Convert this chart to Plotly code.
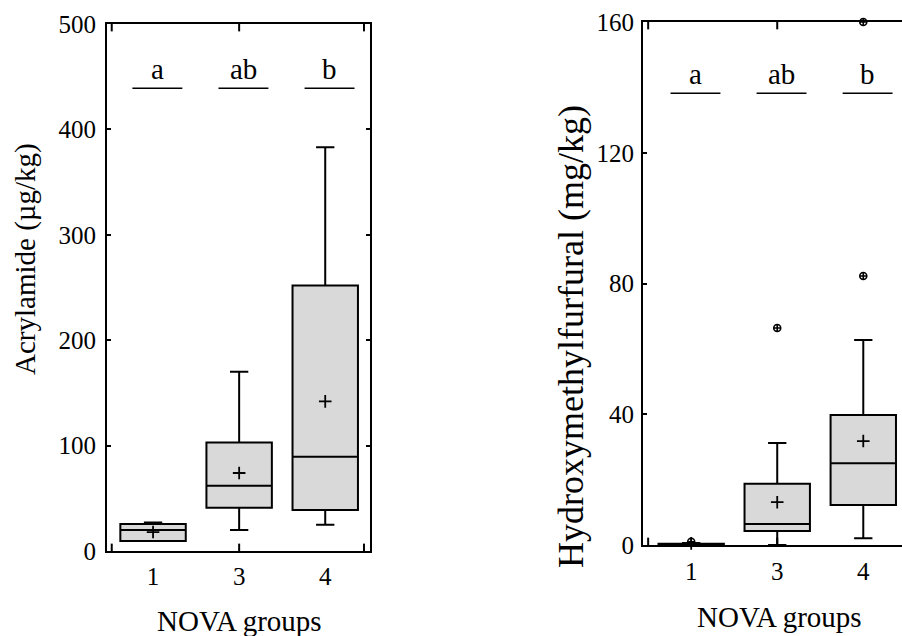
import plotly.graph_objects as go

# ---------------- data ----------------
groups = ["1", "3", "4"]

# Acrylamide (µg/kg)
acr_q1 = [9.5, 41, 39]
acr_median = [20, 62, 89.5]
acr_q3 = [25.7, 103, 252]
acr_low = [9.5, 20, 25]
acr_high = [27, 170, 383]
acr_mean = [18, 74, 142]
acr_letters = ["a", "ab", "b"]

# Hydroxymethylfurfural (mg/kg)
hmf_q1 = [0.0, 4.3, 12.2]
hmf_median = [0.2, 6.4, 25.0]
hmf_q3 = [0.4, 18.7, 39.8]
hmf_low = [0.0, 0.0, 2.1]
hmf_high = [0.6, 31.2, 62.7]
hmf_mean = [0.5, 13.1, 31.8]
hmf_out_x = ["1", "3", "4", "4"]
hmf_out_y = [1.0, 66.4, 82.3, 160.0]
hmf_letters = ["a", "ab", "b"]

FONT = "Liberation Serif"
BOXFILL = "#d9d9d9"

fig = go.Figure()


def add_panel(xa, ya, q1, med, q3, lo, hi, mean):
    fig.add_trace(go.Box(
        x=groups, q1=q1, median=med, q3=q3, lowerfence=lo, upperfence=hi,
        boxpoints=False, width=0.76, whiskerwidth=0.28,
        fillcolor=BOXFILL, line=dict(color="black", width=2),
        xaxis=xa, yaxis=ya, showlegend=False, hoverinfo="skip"))
    fig.add_trace(go.Scatter(
        x=groups, y=mean, mode="markers",
        marker=dict(symbol="cross-thin", size=9, color="black",
                    line=dict(color="black", width=1.8)),
        xaxis=xa, yaxis=ya, showlegend=False, cliponaxis=False))


add_panel("x", "y", acr_q1, acr_median, acr_q3, acr_low, acr_high, acr_mean)
add_panel("x2", "y2", hmf_q1, hmf_median, hmf_q3, hmf_low, hmf_high, hmf_mean)

fig.add_trace(go.Scatter(
    x=hmf_out_x, y=hmf_out_y, mode="markers",
    marker=dict(symbol="circle-cross-open", size=7, color="black",
                line=dict(color="black", width=1.6)),
    xaxis="x2", yaxis="y2", showlegend=False, cliponaxis=False))

# significance letters + lines
def add_letters(xref, yref, letters, y_line, y_text):
    for i, t in enumerate(letters):
        fig.add_shape(type="line", xref=xref, yref=yref,
                      x0=i + 0.05 - 0.29, x1=i + 0.05 + 0.29, y0=y_line, y1=y_line,
                      line=dict(color="black", width=1.5))
        fig.add_annotation(x=i + 0.05, y=y_text, xref=xref, yref=yref, text=t,
                           showarrow=False, yanchor="middle", xanchor="center",
                           font=dict(family=FONT, size=29, color="black"))


add_letters("x", "y", acr_letters, 439, 457)
add_letters("x2", "y2", hmf_letters, 138.2, 144)

# small x tick marks along top / bottom frame
for xr, yr, pos in [("x", "y domain", [-0.48, 1, 2.45]), ("x2", "y2 domain", [-0.5, 1])]:
    for p in pos:
        for y0, y1 in [(0, 0.014), (1, 0.986)]:
            fig.add_shape(type="line", xref=xr, yref=yr, x0=p, x1=p, y0=y0, y1=y1,
                          line=dict(color="black", width=2))

W, H = 902, 636
tickfont = dict(family=FONT, size=25, color="black")
axis_common = dict(showgrid=False, zeroline=False, linecolor="black", linewidth=2,
                   tickfont=tickfont, automargin=False)

fig.update_layout(
    width=W, height=H, margin=dict(l=0, r=0, t=0, b=0, pad=0, autoexpand=False),
    paper_bgcolor="white", plot_bgcolor="white",
    font=dict(family=FONT, color="black"),
    xaxis=dict(domain=[107 / W, 370 / W], type="category", range=[-0.535, 2.52],
               categoryorder="array", categoryarray=groups,
               showline=True, mirror=True, ticks="", ticklabelstandoff=2,
               anchor="y", **axis_common),
    yaxis=dict(domain=[1 - 551 / H, 1 - 24 / H], range=[0, 500], tickvals=[0, 100, 200, 300, 400, 500],
               showline=True, mirror="ticks", ticks="inside", ticklen=4, tickwidth=1.5,
               tickcolor="black", anchor="x", ticklabelstandoff=4, **axis_common),
    xaxis2=dict(domain=[643 / W, 1.0], type="category", range=[-0.56, 2.45],
                categoryorder="array", categoryarray=groups,
                showline=True, mirror=True, ticks="", ticklabelstandoff=3,
                anchor="y2", **axis_common),
    yaxis2=dict(domain=[1 - 545 / H, 1 - 22 / H], range=[0, 160], tickvals=[0, 40, 80, 120, 160],
                showline=True, mirror=False, ticks="inside", ticklen=4, tickwidth=1.5,
                tickcolor="black", anchor="x2", ticklabelstandoff=2, **axis_common),
)

# axis titles
def title(x, y, text, size, angle=0):
    fig.add_annotation(x=x / W, y=1 - y / H, xref="paper", yref="paper", text=text,
                       showarrow=False, textangle=angle, xanchor="center", yanchor="middle",
                       font=dict(family=FONT, size=size, color="black"))


title(240, 621, "NOVA groups", 29)
title(779, 617, "NOVA groups", 29)
title(25, 259, "Acrylamide (µg/kg)", 29, -90)
title(571, 337, "Hydroxymethylfurfural (mg/kg)", 36, -90)

fig.write_html("out.html")
